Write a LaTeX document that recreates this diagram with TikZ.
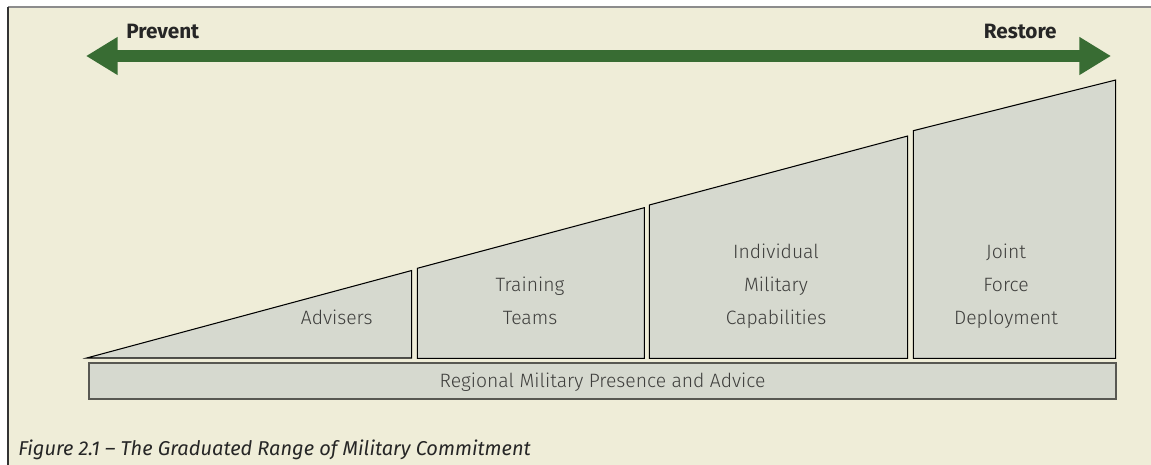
\documentclass[tikz,border=0pt]{standalone}
\usepackage{fontspec}
\setmainfont{Fira Sans}
\newfontfamily\lightfont{Fira Sans Light}
\usetikzlibrary{arrows.meta}
\definecolor{panelbg}{RGB}{239,237,216}
\definecolor{stagefill}{RGB}{214,217,207}
\definecolor{rangegreen}{RGB}{56,108,51}
\definecolor{labelgray}{RGB}{62,62,60}
\definecolor{bargray}{RGB}{88,88,82}
\tikzset{
  stage/.style={draw=black, line width=0.6pt, fill=stagefill},
  stagetext/.style={font=\lightfont\fontsize{11}{18.7}\selectfont, text=labelgray, align=center, anchor=base, inner sep=0pt},
  endtext/.style={font=\bfseries\fontsize{11.8}{14}\selectfont, text=black!85, inner sep=0pt},
}
\begin{document}
\begin{tikzpicture}[x=0.02cm,y=-0.02cm]
    \useasboundingbox (0,0) rectangle (1151,465);
    %% panel
    \fill[panelbg] (8,7) rectangle (1151,465);
    \draw[black!45, line width=1.2pt] (8,7) -- (1151,7);
    \draw[black!80, line width=0.9pt] (8,7) -- (8,465);
    %% range arrow
    \coordinate (prevent end) at (86,56);
    \coordinate (restore end) at (1111,56);
    \draw[rangegreen, line width=6.8pt,
      {Triangle[length=18pt,width=20.4pt]}-{Triangle[length=18pt,width=20.4pt]}]
      (prevent end) -- (restore end);
    \node[endtext, anchor=base west] (prevent) at (126,38.5) {Prevent};
    \node[endtext, anchor=base east] (restore) at (1057,38.5) {Restore};
    %% stages
    \draw[stage] (86.7,358) -- (411.7,270.5) -- (411.7,358) -- cycle;
    \draw[stage] (417.3,268.3) -- (644.3,207.7) -- (644.3,358.3) -- (417.3,358.3) -- cycle;
    \draw[stage] (649.3,205) -- (907.7,136) -- (907.7,358.3) -- (649.3,358.3) -- cycle;
    \draw[stage] (913.3,130.7) -- (1115.7,80) -- (1115.7,358.3) -- (913.3,358.3) -- cycle;
    %% last line of each label sits on the same baseline
    \node[stagetext] (advisers) at (336.7,325) {Advisers};
    \node[stagetext] (training) at (530,324.7) {Training\\Teams};
    \node[stagetext] (individual) at (776,324.3) {Individual\\Military\\Capabilities};
    \node[stagetext] (joint) at (1006,324.3) {Joint\\Force\\Deployment};
    %% presence bar
    \draw[bargray, line width=1.1pt, fill=stagefill] (89,362.7) rectangle (1116.3,399.3);
    \node[stagetext] (presence) at (602.6,387) {Regional Military Presence and Advice};
    %% caption
    \node[font=\itshape\fontsize{11.4}{13}\selectfont, text=black!85, anchor=base west, inner sep=0pt]
      (caption) at (18,455) {Figure 2.1 -- The Graduated Range of Military Commitment};
\end{tikzpicture}
\end{document}
